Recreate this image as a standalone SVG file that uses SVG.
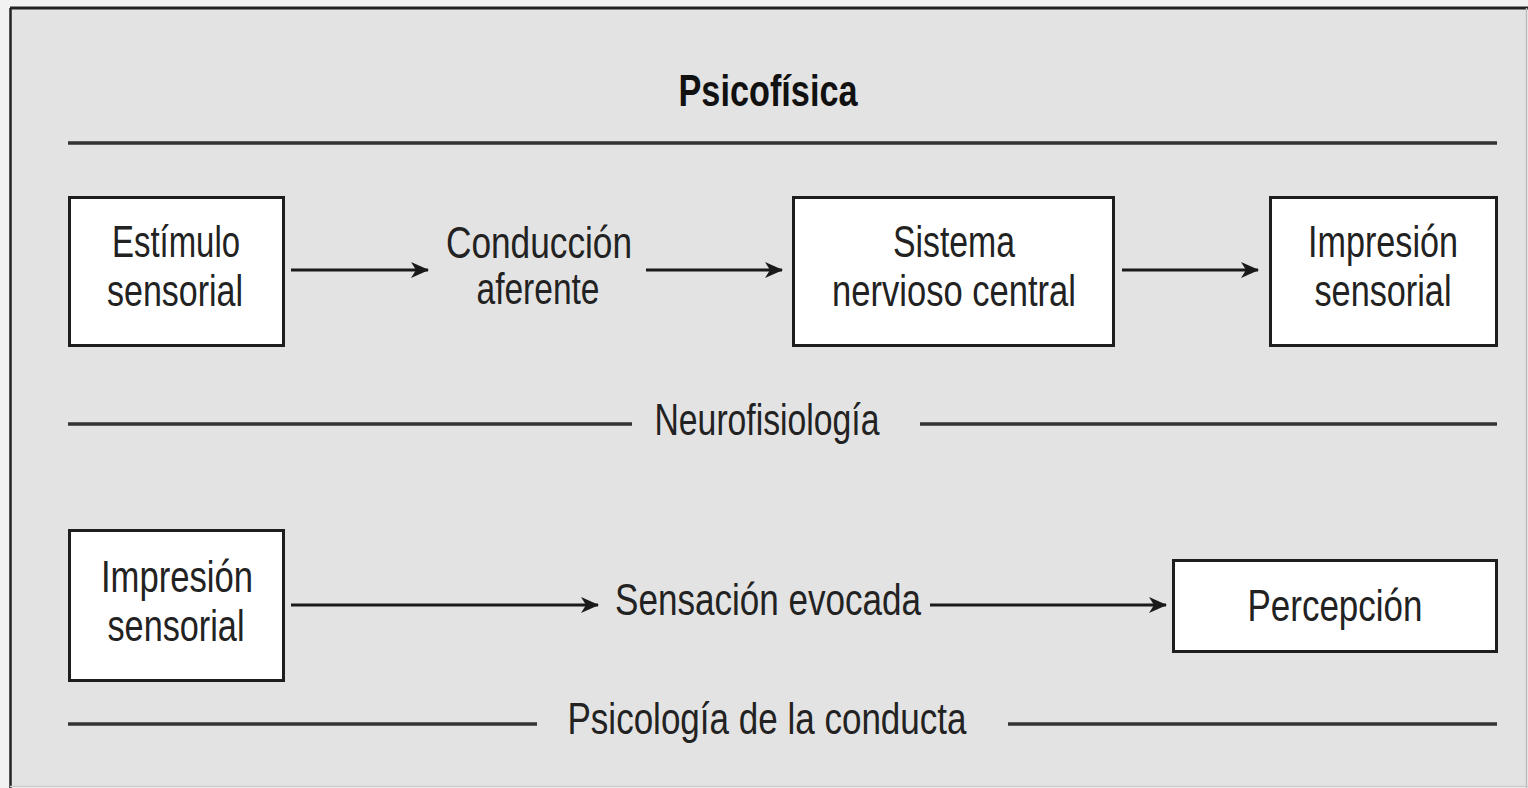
<svg xmlns="http://www.w3.org/2000/svg" width="1528" height="788" viewBox="0 0 1528 788">
<defs>
<marker id="ah" markerWidth="18" markerHeight="16" refX="17" refY="8" orient="auto" markerUnits="userSpaceOnUse">
<path d="M0,0 L18,8 L0,16 L5,8 Z" fill="#1a1a1a"/>
</marker>
<style>
.t{font-family:"Liberation Sans",Arial,sans-serif;font-size:44px;fill:#222;text-anchor:middle}
.b{font-weight:bold;fill:#111}
.box{fill:#fff;stroke:#1e1e1e;stroke-width:3}
.rule{stroke:#333;stroke-width:3.5}
.arr{stroke:#1a1a1a;stroke-width:3;fill:none;marker-end:url(#ah)}
</style>
</defs>
<rect x="0" y="0" width="1528" height="788" fill="#f2f2f2"/>
<rect x="10" y="8" width="1517" height="778" fill="#e3e3e3"/>
<line x1="10" y1="8" x2="1528" y2="8" stroke="#222" stroke-width="3"/>
<line x1="10.5" y1="8" x2="10.5" y2="788" stroke="#222" stroke-width="2.5"/>
<line x1="1526.5" y1="8" x2="1526.5" y2="788" stroke="#bbb" stroke-width="1.5"/>
<line x1="10" y1="786.5" x2="1528" y2="786.5" stroke="#ccc" stroke-width="1.5"/>

<g id="title"><text class="t b" x="768" y="106" textLength="179" lengthAdjust="spacingAndGlyphs">Psicofísica</text></g>
<g id="rules">
<line class="rule" x1="68" y1="143" x2="1497" y2="143"/>
<line class="rule" x1="68" y1="424" x2="632" y2="424"/>
<line class="rule" x1="920" y1="424" x2="1497" y2="424"/>
<line class="rule" x1="68" y1="724" x2="537" y2="724"/>
<line class="rule" x1="1008" y1="724" x2="1497" y2="724"/>
</g>
<g id="label-neuro"><text class="t" x="767" y="435" textLength="225" lengthAdjust="spacingAndGlyphs">Neurofisiología</text></g>
<g id="label-psico"><text class="t" x="767" y="734" textLength="399" lengthAdjust="spacingAndGlyphs">Psicología de la conducta</text></g>

<g id="estimulo">
<rect class="box" x="69.5" y="197.5" width="214" height="148"/>
<text class="t" x="176" y="257" textLength="128" lengthAdjust="spacingAndGlyphs">Estímulo</text>
<text class="t" x="175" y="306" textLength="136" lengthAdjust="spacingAndGlyphs">sensorial</text>
</g>
<g id="conduccion">
<text class="t" x="539" y="258" textLength="186" lengthAdjust="spacingAndGlyphs">Conducción</text>
<text class="t" x="538" y="304" textLength="123" lengthAdjust="spacingAndGlyphs">aferente</text>
</g>
<g id="snc">
<rect class="box" x="793.5" y="197.5" width="320" height="148"/>
<text class="t" x="954" y="257" textLength="122" lengthAdjust="spacingAndGlyphs">Sistema</text>
<text class="t" x="954" y="306" textLength="244" lengthAdjust="spacingAndGlyphs">nervioso central</text>
</g>
<g id="impresion1">
<rect class="box" x="1270.5" y="197.5" width="226" height="148"/>
<text class="t" x="1383" y="257" textLength="150" lengthAdjust="spacingAndGlyphs">Impresión</text>
<text class="t" x="1383" y="306" textLength="137" lengthAdjust="spacingAndGlyphs">sensorial</text>
</g>
<g id="impresion2">
<rect class="box" x="69.5" y="530.5" width="214" height="150"/>
<text class="t" x="177" y="592" textLength="152" lengthAdjust="spacingAndGlyphs">Impresión</text>
<text class="t" x="176" y="641" textLength="137" lengthAdjust="spacingAndGlyphs">sensorial</text>
</g>
<g id="sensacion">
<text class="t" x="768" y="615" textLength="306" lengthAdjust="spacingAndGlyphs">Sensación evocada</text>
</g>
<g id="percepcion">
<rect class="box" x="1173.5" y="560.5" width="323" height="91"/>
<text class="t" x="1335" y="621" textLength="175" lengthAdjust="spacingAndGlyphs">Percepción</text>
</g>

<g id="connectors">
<line class="arr" x1="291" y1="270" x2="428" y2="270"/>
<line class="arr" x1="646" y1="270" x2="782" y2="270"/>
<line class="arr" x1="1122" y1="270" x2="1258" y2="270"/>
<line class="arr" x1="291" y1="605" x2="598" y2="605"/>
<line class="arr" x1="930" y1="605" x2="1166" y2="605"/>
</g>
</svg>
